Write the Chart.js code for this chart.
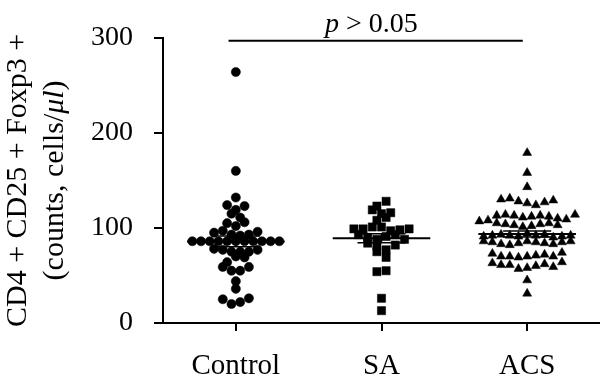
<!DOCTYPE html>
<html><head><meta charset="utf-8">
<script src="https://cdn.jsdelivr.net/npm/chart.js@4"></script>
<style>html,body{margin:0;padding:0;background:#fff}#wrap{width:600px;height:383px}</style>
</head><body><div id="wrap"><canvas id="c" width="600" height="383"></canvas></div>
<script>
const categories = ['Control', 'SA', 'ACS'];
// values listed row by row (top to bottom), left to right within a row
const controlValues = [264, 160, 132,
  124, 119, 123,
  115, 111,
  105, 102, 106,
  95, 97, 93, 92, 93, 96,
  86, 86, 86, 86, 86, 86, 86, 86, 86, 86, 86,
  78, 77, 75, 75, 75, 77,
  64, 70, 69,
  59, 55, 55, 59,
  44, 36,
  25, 20, 22, 26];
const saValues = [123, 128,
  119, 115, 116,
  108, 111,
  99, 99, 101, 101, 97, 98, 99,
  93, 90, 88, 91, 93, 88,
  84, 81, 77, 82,
  75, 69,
  54, 55,
  26, 13];
const acsValues = [179, 158, 143,
  130, 131, 128, 126, 124, 127, 129,
  107, 108, 113, 114, 113, 111, 112, 113, 112, 110, 109, 114,
  105, 104, 103, 101, 102, 104, 105, 103,
  91, 92, 93, 92, 91, 94, 92, 93, 90, 91, 92,
  86, 85, 83, 82, 84, 86, 85, 84, 83, 85, 86,
  73, 70, 70, 69, 70, 71, 72, 70, 74,
  63, 61, 61, 57, 58, 60, 62, 59, 64,
  45, 31];
const yTicks = [0, 100, 200, 300];
const pText = ['p', ' > 0.05'];
const pBracket = {from: 0.95, to: 2.97, y: 297};
const yTitle1 = 'CD4 + CD25 + Foxp3 +';
const yTitle2 = ['(counts, cells/', 'μl', ')'];

const groups = [controlValues, saValues, acsValues];
const FONT = "'Liberation Serif', 'Times New Roman', serif";

// GraphPad-like scatter: group points into horizontal rows, centre each row
function rowLayout(pys, gap, rowH) {
  const idx = pys.map((_, i) => i).sort((a, b) => (pys[a] - pys[b]) || (a - b));
  const out = new Array(pys.length);
  let k = 0;
  while (k < idx.length) {
    const top = pys[idx[k]];
    const row = [];
    while (k < idx.length && pys[idx[k]] - top < rowH) { row.push(idx[k]); k++; }
    row.sort((a, b) => a - b);
    row.forEach((i, j) => { out[i] = (j - (row.length - 1) / 2) * gap; });
  }
  return out;
}

const overlay = {
  id: 'overlay',
  afterDatasetsDraw(chart) {
    const {ctx, scales: {x, y}} = chart;
    const seg = (x1, y1, x2, y2) => { ctx.beginPath(); ctx.moveTo(x1, y1); ctx.lineTo(x2, y2); ctx.stroke(); };
    ctx.save();
    ctx.strokeStyle = '#000';
    groups.forEach((vals, gi) => {
      const c = gi + 1, n = vals.length;
      const mean = vals.reduce((s, v) => s + v, 0) / n;
      const sd = Math.sqrt(vals.reduce((s, v) => s + (v - mean) ** 2, 0) / (n - 1));
      const sem = sd / Math.sqrt(n);
      const ym = y.getPixelForValue(mean), yh = y.getPixelForValue(mean + sem), yl = y.getPixelForValue(mean - sem);
      const cx = x.getPixelForValue(c);
      ctx.lineWidth = 2;
      seg(x.getPixelForValue(c - 0.335), ym, x.getPixelForValue(c + 0.335), ym);
      ctx.lineWidth = 1.5;
      seg(cx, yh, cx, yl);
      seg(x.getPixelForValue(c - 0.165), yh, x.getPixelForValue(c + 0.165), yh);
      seg(x.getPixelForValue(c - 0.165), yl, x.getPixelForValue(c + 0.165), yl);
    });
    const by = y.getPixelForValue(pBracket.y);
    const bx1 = x.getPixelForValue(pBracket.from), bx2 = x.getPixelForValue(pBracket.to);
    ctx.lineWidth = 2;
    seg(bx1, by, bx2, by);
    ctx.fillStyle = '#000';
    ctx.textBaseline = 'alphabetic';
    ctx.textAlign = 'left';
    ctx.font = 'italic 28px ' + FONT;
    const w1 = ctx.measureText(pText[0]).width;
    ctx.font = '28px ' + FONT;
    const w2 = ctx.measureText(pText[1]).width;
    const mid = x.getPixelForValue(1.93);
    const tx = mid - (w1 + w2) / 2;
    ctx.font = 'italic 28px ' + FONT; ctx.fillText(pText[0], tx, by - 9);
    ctx.font = '28px ' + FONT; ctx.fillText(pText[1], tx + w1, by - 9);
    ctx.restore();
  },
  afterDraw(chart) {
    const {ctx, chartArea} = chart;
    const yc = (chartArea.top + chartArea.bottom) / 2;
    ctx.save();
    ctx.fillStyle = '#000';
    ctx.textBaseline = 'middle';
    ctx.save();
    ctx.translate(18, yc); ctx.rotate(-Math.PI / 2);
    ctx.font = '30px ' + FONT; ctx.textAlign = 'center';
    ctx.fillText(yTitle1, 0, 0);
    ctx.restore();
    ctx.save();
    ctx.translate(55, yc); ctx.rotate(-Math.PI / 2);
    ctx.textAlign = 'left';
    const fonts = ['30px ' + FONT, 'italic 30px ' + FONT, '30px ' + FONT];
    const widths = yTitle2.map((t, i) => { ctx.font = fonts[i]; return ctx.measureText(t).width; });
    let px = -widths.reduce((a, b) => a + b, 0) / 2;
    yTitle2.forEach((t, i) => { ctx.font = fonts[i]; ctx.fillText(t, px, 0); px += widths[i]; });
    ctx.restore();
    ctx.restore();
  }
};

const styles = [
  {pointStyle: 'circle', radius: 4.6, gap: 8.7},
  {pointStyle: 'rect', radius: 5.8, gap: 9.2},
  {pointStyle: 'triangle', radius: 5.2, gap: 8.7}
];

const chart = new Chart(document.getElementById('c'), {
  type: 'scatter',
  data: {
    datasets: groups.map((vals, gi) => ({
      label: categories[gi],
      data: vals.map(v => ({x: gi + 1, y: v})),
      pointStyle: styles[gi].pointStyle,
      pointRadius: styles[gi].radius,
      pointHoverRadius: styles[gi].radius,
      backgroundColor: '#000',
      borderColor: '#000',
      borderWidth: 0.5,
      clip: false
    }))
  },
  options: {
    responsive: false,
    animation: false,
    devicePixelRatio: 1,
    layout: {autoPadding: false, padding: {top: 33, right: 0, bottom: 0, left: 0}},
    plugins: {legend: {display: false}, tooltip: {enabled: false}},
    scales: {
      x: {
        type: 'linear', min: 0.5, max: 3.5,
        afterBuildTicks: s => { s.ticks = [1, 2, 3].map(v => ({value: v})); },
        afterFit: s => { s.height = 60; },
        ticks: {
          callback: v => categories[Math.round(v) - 1],
          font: {family: FONT, size: 29}, color: '#000', padding: 18,
          maxRotation: 0, autoSkip: false
        },
        grid: {display: true, drawOnChartArea: false, drawTicks: true, tickLength: 8, color: '#000', lineWidth: 2},
        border: {display: true, color: '#000', width: 2}
      },
      y: {
        type: 'linear', min: 0, max: 300,
        afterBuildTicks: s => { s.ticks = yTicks.map(v => ({value: v})); },
        afterFit: s => { s.width = 163; },
        ticks: {font: {family: FONT, size: 28}, color: '#000', padding: 21},
        grid: {display: true, drawOnChartArea: false, drawTicks: true, tickLength: 9, color: '#000', lineWidth: 2},
        border: {display: true, color: '#000', width: 2}
      }
    }
  },
  plugins: [overlay]
});

(function () {
  const xs = chart.scales.x, ys = chart.scales.y;
  const rowH = Math.abs(ys.getPixelForValue(0) - ys.getPixelForValue(7.2));
  chart.data.datasets.forEach((ds, gi) => {
    const vals = groups[gi];
    const cx = xs.getPixelForValue(gi + 1);
    const off = rowLayout(vals.map(v => ys.getPixelForValue(v)), styles[gi].gap, rowH);
    ds.data = vals.map((v, i) => ({x: xs.getValueForPixel(cx + off[i]), y: v}));
  });
  chart.update('none');
})();
</script>
</body></html>
